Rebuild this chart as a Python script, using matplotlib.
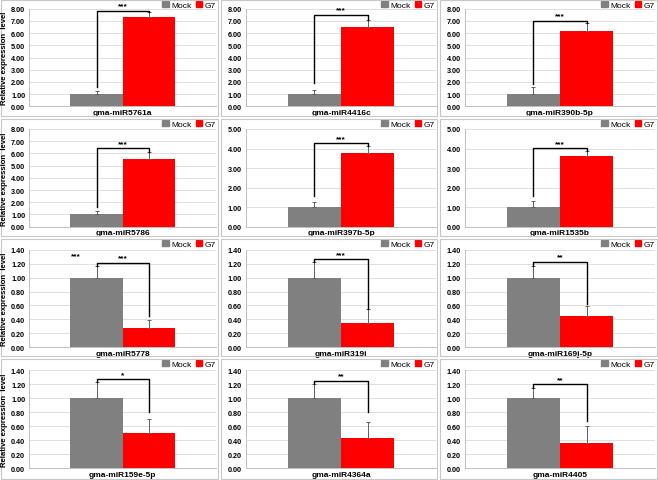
import matplotlib
matplotlib.use("Agg")
import matplotlib.pyplot as plt
from matplotlib.patches import Rectangle, Patch

plt.rcParams['font.family'] = ['Liberation Sans', 'DejaVu Sans']

# data (relative expression, Mock is the 1.0 reference)
names = ['gma-miR5761a', 'gma-miR4416c', 'gma-miR390b-5p',
         'gma-miR5786', 'gma-miR397b-5p', 'gma-miR1535b',
         'gma-miR5778', 'gma-miR319i', 'gma-miR169j-5p',
         'gma-miR159e-5p', 'gma-miR4364a', 'gma-miR4405']
mock = [1.00] * 12
mock_top = [1.27, 1.33, 1.55, 1.30, 1.28, 1.33, 1.16, 1.23, 1.17, 1.23, 1.20, 1.15]
g7 = [7.32, 6.52, 6.15, 5.55, 3.77, 3.63, 0.277, 0.344, 0.445, 0.505, 0.44, 0.36]
g7_top = [7.75, 7.07, 6.80, 6.10, 4.11, 3.86, 0.39, 0.55, 0.59, 0.70, 0.66, 0.60]
bracket_y = [7.83, 7.48, 6.99, 6.43, 4.27, 4.01, 1.21, 1.26, 1.23, 1.27, 1.25, 1.20]
left_low = [1.62, 1.90, 1.82, 1.65, 1.55, 1.59, 1.16, 1.23, 1.17, 1.23, 1.20, 1.15]
right_low = [7.75, 7.07, 6.80, 6.10, 4.11, 3.86, 0.45, 0.55, 0.62, 0.80, 0.80, 0.67]
stars = ['***', '***', '***', '***', '***', '***', '***', '***', '**', '*', '**', '**']
ymax = [8, 8, 8, 8, 5, 5, 1.4, 1.4, 1.4, 1.4, 1.4, 1.4]
ystep = [1, 1, 1, 1, 1, 1, 0.2, 0.2, 0.2, 0.2, 0.2, 0.2]

W, H = 658, 481
fig = plt.figure(figsize=(W / 100, H / 100), dpi=100)

def fx(x):
    return x / W

def fy(y):
    return 1 - y / H

# panel boxes and plot areas in pixels
box_x = [(1, 218), (221, 437), (440, 657)]
box_y = [(1, 117), (120, 237), (240, 357), (360, 480)]
plot_x = [(29.3, 216), (246, 436), (465, 655)]
plot_y = [(9.7, 107.3), (130, 227.7), (250.7, 348.3), (371.3, 469.3)]

grey = '#808080'
red = '#ff0000'
w = 0.28

for i in range(12):
    r, c = divmod(i, 3)
    bx0, bx1 = box_x[c]
    by0, by1 = box_y[r]
    fig.patches.append(Rectangle((fx(bx0), fy(by1)), fx(bx1 - bx0), (by1 - by0) / H,
                                 transform=fig.transFigure, fill=False,
                                 edgecolor='#c8c8c8', lw=0.8))

    x0, x1 = plot_x[c]
    y0, y1 = plot_y[r]
    ax = fig.add_axes([fx(x0), fy(y1), fx(x1 - x0), (y1 - y0) / H])

    ax.bar(-w / 2, mock[i], w, color=grey, zorder=2, label='Mock')
    ax.bar(w / 2, g7[i], w, color=red, zorder=2, label='G7')
    ax.errorbar([-w / 2], [mock[i]], yerr=[[0], [mock_top[i] - mock[i]]],
                fmt='none', ecolor='#606060', elinewidth=0.7, capsize=1.5, capthick=0.7, zorder=3)
    ax.errorbar([w / 2], [g7[i]], yerr=[[0], [g7_top[i] - g7[i]]],
                fmt='none', ecolor='#606060', elinewidth=0.7, capsize=1.5, capthick=0.7, zorder=3)

    # significance bracket
    ax.plot([-w / 2, -w / 2, w / 2, w / 2],
            [left_low[i], bracket_y[i], bracket_y[i], right_low[i]],
            color='black', lw=1.0, zorder=4, clip_on=False)
    ax.annotate(stars[i], (0, bracket_y[i]), xytext=(0, 1), textcoords='offset points',
                ha='center', va='bottom', fontsize=6, fontweight='bold', annotation_clip=False)
    if i == 6:
        ax.annotate('***', (-0.25, 1.27), ha='center', va='bottom', fontsize=6,
                    fontweight='bold', annotation_clip=False)

    ax.set_xlim(-0.5, 0.5)
    ax.set_ylim(0, ymax[i])
    n = int(round(ymax[i] / ystep[i]))
    ticks = [k * ystep[i] for k in range(n + 1)]
    ax.set_yticks(ticks)
    ax.set_yticklabels(['%.2f' % t for t in ticks], fontsize=5.2, fontweight='bold')
    ax.set_xticks([0])
    ax.set_xticklabels([names[i]], fontsize=6, fontweight='bold')
    ax.tick_params(axis='both', length=0, pad=3)
    ax.tick_params(axis='x', pad=2)
    ax.yaxis.grid(True, color='#d9d9d9', lw=0.6, zorder=0)
    ax.set_axisbelow(True)
    for s in ['top', 'right']:
        ax.spines[s].set_visible(False)
    for s in ['left', 'bottom']:
        ax.spines[s].set_color('#bfbfbf')
        ax.spines[s].set_linewidth(0.7)

    handles = [Patch(color=grey, label='Mock'), Patch(color=red, label='G7')]
    ax.legend(handles=handles, loc='upper right', bbox_to_anchor=(fx(bx1 - 2), fy(by0 + 0.5)),
              bbox_transform=fig.transFigure, ncol=2, fontsize=6, frameon=False,
              handlelength=0.8, handleheight=0.8, handletextpad=0.3, columnspacing=0.5,
              borderaxespad=0, borderpad=0)

    if c == 0:
        fig.text(fx(4.5), fy((y0 + y1) / 2), 'Relative expression  level', rotation=90,
                 ha='center', va='center', fontsize=5.6, fontweight='bold')

fig.savefig('out.png', dpi=100)
